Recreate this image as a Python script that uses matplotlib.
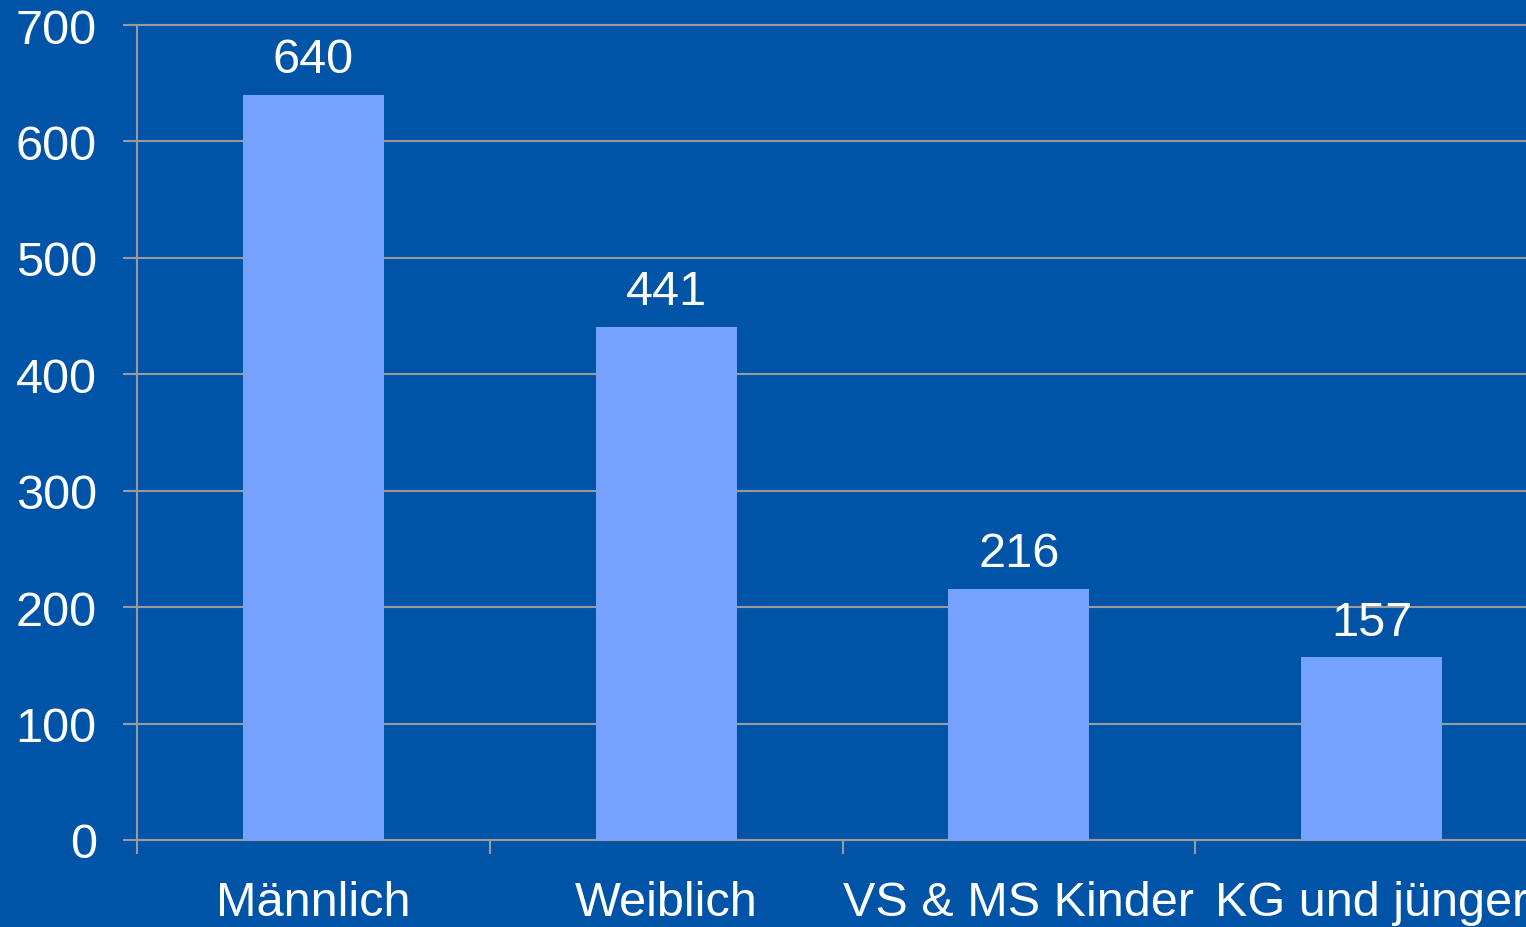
import matplotlib
matplotlib.use('Agg')

import numpy as np
import matplotlib.pyplot as plt

# ── Dados ─────────────────────────────────────────────────────────────────────
kategorien = ["Männlich", "Weiblich", "VS & MS Kinder", "KG und jünger"]
werte = [640, 441, 216, 157]
y_ticks = [0, 100, 200, 300, 400, 500, 600, 700]

FUNDO = "#0054A8"
BARRA = "#75A1FF"
CINZA = "#9A9A9A"

plt.rcParams['font.family'] = ['Liberation Sans', 'DejaVu Sans']

fig = plt.figure(figsize=(15.26, 9.28), dpi=100)
fig.patch.set_facecolor(FUNDO)
# eixo passa da borda direita, como no original
ax = fig.add_axes([137 / 1526, 87 / 928, 1411 / 1526, 815 / 928])
ax.set_facecolor(FUNDO)

x = np.arange(len(kategorien))
ax.bar(x, werte, width=0.4, color=BARRA, zorder=3)

for xi, v in zip(x, werte):
    ax.annotate(str(v), (xi, v), xytext=(0, 9), textcoords="offset points",
                ha="center", va="bottom", color="white", fontsize=35)

ax.set_xlim(-0.5, len(kategorien) - 0.5)
ax.set_ylim(0, 700)
ax.set_yticks(y_ticks)
ax.set_yticklabels([str(t) for t in y_ticks])
ax.yaxis.grid(True, color=CINZA, linewidth=1.5, zorder=0)
ax.set_axisbelow(True)
for g in ax.yaxis.get_gridlines():
    g.set_clip_on(False)

ax.set_xticks(x)
ax.set_xticklabels(kategorien)
ax.set_xticks(np.arange(len(kategorien)) - 0.5, minor=True)
ax.tick_params(axis="x", which="major", length=0, pad=29, labelsize=35,
               labelcolor="white")
ax.tick_params(axis="x", which="minor", length=10, width=1.5, color=CINZA,
               direction="out")
ax.tick_params(axis="y", length=10, width=1.5, color=CINZA, pad=19,
               labelsize=35, labelcolor="white")

for s in ["top", "right"]:
    ax.spines[s].set_visible(False)
for s in ["left", "bottom"]:
    ax.spines[s].set_color(CINZA)
    ax.spines[s].set_linewidth(1.5)

fig.savefig("out.png", dpi=100, facecolor=FUNDO)
